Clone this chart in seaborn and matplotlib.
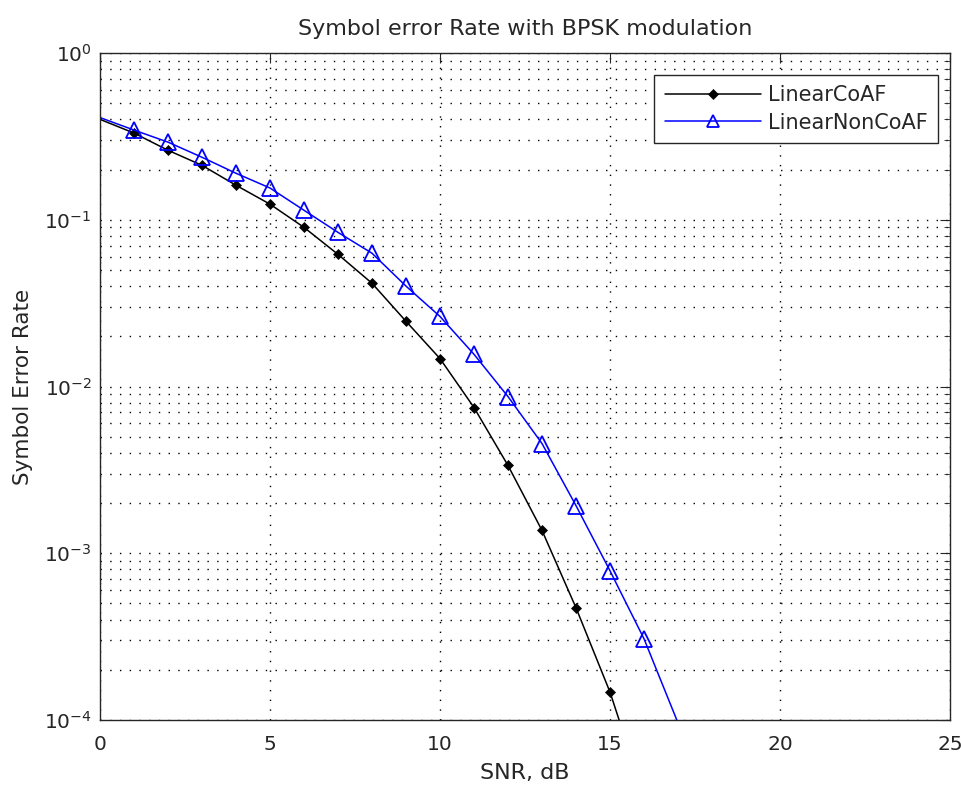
import numpy as np
import pandas as pd
import seaborn as sns
import matplotlib.pyplot as plt
from matplotlib.ticker import LogLocator, NullFormatter

# SNR points (dB) and symbol error rates
snr = [0, 1, 2, 3, 4, 5, 6, 7, 8, 9, 10, 11, 12, 13, 14, 15, 16, 17]
ser_coaf = [0.40, 0.331, 0.261, 0.212, 0.161, 0.124, 0.090, 0.062, 0.0416,
            0.0246, 0.0147, 0.00748, 0.00336, 0.00137, 0.000471, 0.000147,
            3.5e-5, 5e-6]
ser_noncoaf = [0.41, 0.345, 0.292, 0.237, 0.190, 0.155, 0.114, 0.084, 0.063,
               0.040, 0.0263, 0.0156, 0.0087, 0.00455, 0.00193, 0.000785,
               0.000307, 9.6e-5]

df = pd.DataFrame({'snr': snr, 'coaf': ser_coaf, 'noncoaf': ser_noncoaf})

sns.set_style('white')
plt.rcParams['font.family'] = ['DejaVu Sans']

fig = plt.figure(figsize=(9.61, 7.87), dpi=100)
ax = fig.add_axes([100 / 961, 1 - 720 / 787, 850 / 961, 667 / 787])

# markers only where the point sits inside the axes (1..16 dB)
marks = slice(1, 17)
sns.lineplot(data=df, x='snr', y='coaf', ax=ax, color='black', lw=1.1,
             marker='D', markersize=5.5, markeredgewidth=0.5,
             markeredgecolor='black', markevery=marks, label='LinearCoAF')
sns.lineplot(data=df, x='snr', y='noncoaf', ax=ax, color='blue', lw=1.1,
             marker='^', markersize=12, markerfacecolor='none',
             markeredgecolor='blue', markeredgewidth=1.3, markevery=marks,
             label='LinearNonCoAF')

ax.set_yscale('log')
ax.set_xlim(0, 25)
ax.set_ylim(1e-4, 1)
ax.set_xticks([0, 5, 10, 15, 20, 25])
ax.yaxis.set_major_locator(LogLocator(base=10, numticks=10))
ax.yaxis.set_minor_locator(LogLocator(base=10, subs=np.arange(2, 10), numticks=20))
ax.yaxis.set_minor_formatter(NullFormatter())

dot = (0, (1, 6))
ax.grid(True, which='major', axis='both', color='black', linestyle=dot, lw=1.0)
ax.grid(True, which='minor', axis='y', color='black', linestyle=dot, lw=1.0)

ax.tick_params(which='both', direction='in', top=True, right=True,
               labelsize=14.5, colors='#262626')
ax.tick_params(which='major', length=7)
ax.tick_params(axis='x', which='major', pad=11)
ax.tick_params(axis='y', which='major', pad=6)
ax.tick_params(which='minor', length=4)
for s in ax.spines.values():
    s.set_color('#262626')
    s.set_linewidth(1.0)

ax.set_title('Symbol error Rate with BPSK modulation', fontsize=16,
             color='#262626', pad=13)
ax.set_xlabel('SNR, dB', fontsize=16, color='#262626', labelpad=6)
ax.set_ylabel('Symbol Error Rate', fontsize=15.5, color='#262626', labelpad=8)

leg = ax.legend(loc='upper right', bbox_to_anchor=(0.986, 0.967),
                borderaxespad=0, fancybox=False, framealpha=1,
                edgecolor='#262626', fontsize=15, handlelength=4.6,
                borderpad=0.5, labelspacing=0.35, handletextpad=0.35)
leg.get_frame().set_linewidth(1.0)
for h in leg.legend_handles:
    h.set_markevery([1])
leg.legend_handles[1].set_markersize(8)

fig.savefig('out.png', dpi=100)
